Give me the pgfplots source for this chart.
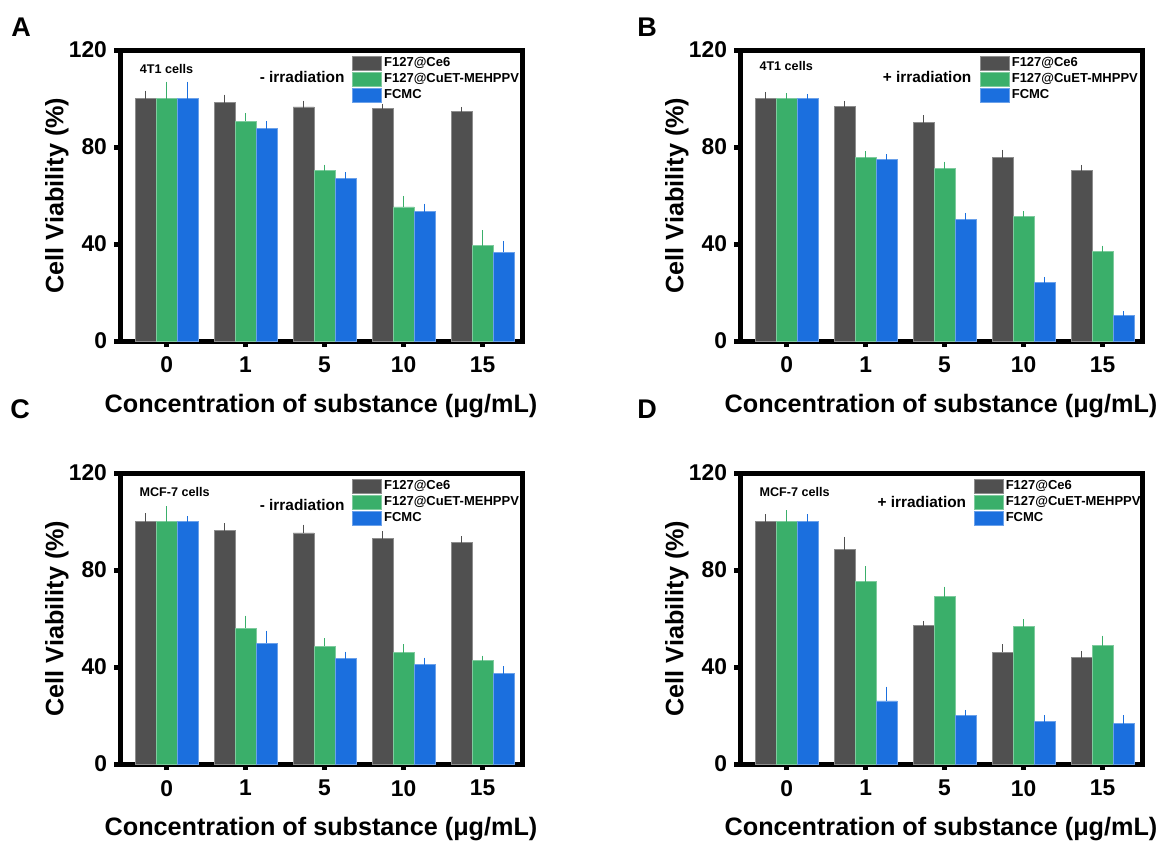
\documentclass[border=0pt]{standalone}
\usepackage{fontspec}
\setmainfont{Liberation Sans}
\usepackage{pgfplots}
\usepackage{pgfplotstable}
\pgfplotsset{compat=1.18}
\definecolor{cdark}{HTML}{505050}
\definecolor{cgreen}{HTML}{3AAF6A}
\definecolor{cblue}{HTML}{1B6FDE}

\pgfplotstableread{
x y1 e1 y2 e2 y3 e3
0 100.0 1.6 100.0 5.3 100.0 5.3
1 98.3 1.6 90.7 1.7 87.8 1.3
2 96.5 1.0 70.4 0.7 67.1 0.9
3 95.8 0.3 55.3 2.9 53.3 1.7
4 94.6 0.3 39.3 4.7 36.7 2.9
}\dataA
\pgfplotstableread{
x y1 e1 y2 e2 y3 e3
0 100.0 1.1 100.0 0.6 100.0 0.3
1 96.7 0.7 75.7 0.9 75.0 0.4
2 90.1 1.3 71.3 1.0 50.1 1.1
3 75.8 1.4 51.5 0.4 24.3 0.5
4 70.3 0.7 36.8 0.9 10.4 0.2
}\dataB
\pgfplotstableread{
x y1 e1 y2 e2 y3 e3
0 100.0 1.8 100.0 4.6 100.0 0.5
1 96.4 1.3 55.9 3.6 49.9 3.5
2 95.3 1.8 48.6 1.7 43.7 1.0
3 93.2 1.1 45.9 1.8 41.2 1.0
4 91.5 0.7 42.7 0.3 37.3 1.3
}\dataC
\pgfplotstableread{
x y1 e1 y2 e2 y3 e3
0 100.0 1.3 100.0 3.0 100.0 1.3
1 88.4 3.6 75.2 4.7 26.0 4.3
2 57.0 0.4 69.0 2.5 20.0 0.7
3 46.0 1.7 56.7 1.3 17.4 1.0
4 43.9 1.1 48.8 2.5 16.7 1.7
}\dataD

\pgfplotsset{
 panel/.style={
  width=201pt, height=145.5pt, scale only axis,
  anchor=south west,
  ybar=0pt, bar width=10.5pt,
  xmin=-0.59, xmax=4.5, ymin=0, ymax=120,
  xtick={0,1,2,3,4}, xticklabels={0,1,5,10,15},
  ytick={0,40,80,120},
  xtick pos=bottom, ytick pos=left,
  tick align=outside, major tick length=3pt,
  every tick/.style={black, line width=2.5pt},
  axis line style={line width=2.5pt},
  /pgf/number format/assume math mode=true,
  ticklabel style={font=\bfseries\fontsize{11.4}{13}\selectfont},
  xticklabel style={yshift=-1.5pt},
  xlabel={Concentration of substance (μg/mL)},
  ylabel={Cell Viability (\%)},
  label style={font=\bfseries\fontsize{12.6}{14}\selectfont},
  xlabel style={at={(axis description cs:0.5,-0.224)}, anchor=center},
  ylabel style={at={(axis description cs:-0.157,0.5)}, anchor=center},
  legend style={draw=none, fill=none, anchor=north west,
    font=\bfseries\fontsize{6.5}{7}\selectfont, inner sep=0pt, outer sep=0pt,
    row sep=0pt, nodes={inner sep=1pt}},
  legend cell align=left,
  legend image code/.code={\draw[#1] (0pt,-3.5pt) rectangle (14.5pt,3.5pt);},
 },
 sdark/.style={fill=cdark, draw=cdark!65!white, line width=0.4pt,
   error bars/.cd, y dir=plus, y explicit,
   error bar style={line width=0.7pt, cdark},
   error mark options={line width=0.7pt, mark size=2pt, cdark}},
 sgreen/.style={fill=cgreen, draw=cgreen!65!white, line width=0.4pt,
   error bars/.cd, y dir=plus, y explicit,
   error bar style={line width=0.7pt, cgreen},
   error mark options={line width=0.7pt, mark size=2pt, cgreen}},
 sblue/.style={fill=cblue, draw=cblue!65!white, line width=0.4pt,
   error bars/.cd, y dir=plus, y explicit,
   error bar style={line width=0.7pt, cblue},
   error mark options={line width=0.7pt, mark size=2pt, cblue}},
}

\begin{document}
\begin{tikzpicture}
\path[use as bounding box] (0pt,0pt) rectangle (583pt,-420.5pt);

% Panel A
\begin{axis}[panel, at={(60pt,-170.5pt)}, legend style={at={(0.578,0.983)}}]
\addplot[sdark] table[x=x,y=y1,y error=e1]{\dataA};
\addplot[sgreen] table[x=x,y=y2,y error=e2]{\dataA};
\addplot[sblue] table[x=x,y=y3,y error=e3]{\dataA};
\legend{F127@Ce6,F127@CuET-MEHPPV,FCMC}
\node[anchor=west, font=\bfseries\fontsize{6.3}{7}\selectfont] at (rel axis cs:0.032,0.935) {4T1 cells};
\node[anchor=east, font=\bfseries\fontsize{7.7}{9}\selectfont] at (rel axis cs:0.576,0.907) {- irradiation};
\end{axis}

% Panel B
\begin{axis}[panel, at={(370pt,-170.5pt)}, legend style={at={(0.597,0.983)}}]
\addplot[sdark] table[x=x,y=y1,y error=e1]{\dataB};
\addplot[sgreen] table[x=x,y=y2,y error=e2]{\dataB};
\addplot[sblue] table[x=x,y=y3,y error=e3]{\dataB};
\legend{F127@Ce6,F127@CuET-MHPPV,FCMC}
\node[anchor=west, font=\bfseries\fontsize{6.3}{7}\selectfont] at (rel axis cs:0.031,0.946) {4T1 cells};
\node[anchor=east, font=\bfseries\fontsize{7.7}{9}\selectfont] at (rel axis cs:0.593,0.907) {+ irradiation};
\end{axis}

% Panel C
\begin{axis}[panel, at={(60pt,-382pt)}, legend style={at={(0.578,0.983)}}]
\addplot[sdark] table[x=x,y=y1,y error=e1]{\dataC};
\addplot[sgreen] table[x=x,y=y2,y error=e2]{\dataC};
\addplot[sblue] table[x=x,y=y3,y error=e3]{\dataC};
\legend{F127@Ce6,F127@CuET-MEHPPV,FCMC}
\node[anchor=west, font=\bfseries\fontsize{6.3}{7}\selectfont] at (rel axis cs:0.031,0.935) {MCF-7 cells};
\node[anchor=east, font=\bfseries\fontsize{7.7}{9}\selectfont] at (rel axis cs:0.576,0.89) {- irradiation};
\end{axis}

% Panel D
\begin{axis}[panel, at={(370pt,-382pt)}, legend style={at={(0.582,0.983)}}]
\addplot[sdark] table[x=x,y=y1,y error=e1]{\dataD};
\addplot[sgreen] table[x=x,y=y2,y error=e2]{\dataD};
\addplot[sblue] table[x=x,y=y3,y error=e3]{\dataD};
\legend{F127@Ce6,F127@CuET-MEHPPV,FCMC}
\node[anchor=west, font=\bfseries\fontsize{6.3}{7}\selectfont] at (rel axis cs:0.031,0.935) {MCF-7 cells};
\node[anchor=east, font=\bfseries\fontsize{7.7}{9}\selectfont] at (rel axis cs:0.58,0.9) {+ irradiation};
\end{axis}

\node[font=\bfseries\fontsize{13.5}{15}\selectfont] at (10.5pt,-13.5pt) {A};
\node[font=\bfseries\fontsize{13.5}{15}\selectfont] at (323.5pt,-13.5pt) {B};
\node[font=\bfseries\fontsize{13.5}{15}\selectfont] at (10pt,-204.5pt) {C};
\node[font=\bfseries\fontsize{13.5}{15}\selectfont] at (323.5pt,-204.5pt) {D};
\end{tikzpicture}
\end{document}
